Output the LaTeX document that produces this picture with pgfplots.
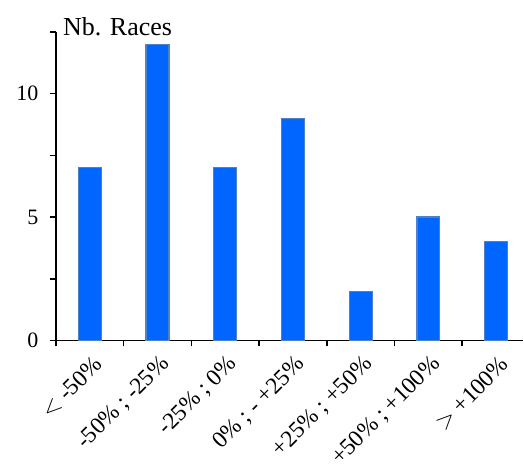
\documentclass[border=0pt]{standalone}
\usepackage{fontspec}
\setmainfont{Liberation Serif}
\usepackage{pgfplots}
\pgfplotsset{compat=1.18}
\definecolor{barfill}{HTML}{0066FF}
\definecolor{baredge}{HTML}{4F82C4}
\begin{document}
\begin{tikzpicture}
\begin{axis}[
  scale only axis,
  width=468pt, height=309pt,
  xmin=-0.5, xmax=6.4,
  ymin=0, ymax=12.5,
  axis x line=bottom, axis y line=left,
  axis line style={-, line width=1.6pt},
  tick style={line width=1.6pt, black},
  minor tick style={line width=1.6pt, black},
  tick align=outside,
  major tick length=6pt, minor tick length=6pt,
  ytick={0,2.5,5,7.5,10,12.5}, yticklabels={0,,5,,10,},
  xtick={0,...,6},
  xticklabels={{$<$ -50\%},{-50\% ; -25\%},{-25\% ; 0\%},{0\% ; - +25\%},{+25\% ; +50\%},{+50\% ; +100\%},{$>$ +100\%}},
  x tick style={draw=none},
  minor xtick={-0.5,0.5,1.5,2.5,3.5,4.5,5.5},
  minor x tick style={draw=black, line width=1.6pt},
  xticklabel style={rotate=45, anchor=east, font=\fontsize{23.5}{27}\selectfont, inner sep=2pt, yshift=-16pt, xshift=-2pt},
  yticklabel style={font=\fontsize{22}{26}\selectfont, xshift=-8pt},
  /pgf/number format/assume math mode=true,
  clip=false,
  ybar, bar width=23pt,
]
\addplot[fill=barfill, draw=baredge, line width=1.2pt] coordinates {(0,7) (1,12) (2,7) (3,9) (4,2) (5,5) (6,4)};
\node[anchor=base west, font=\fontsize{26}{30}\selectfont, inner sep=0pt] at ([xshift=7pt, yshift=-4pt]rel axis cs:0,1) {Nb. Races};
\end{axis}
\path[use as bounding box] ([xshift=-56pt, yshift=-126pt]current axis.south west) rectangle ([yshift=32pt]current axis.north east);
\end{tikzpicture}
\end{document}
